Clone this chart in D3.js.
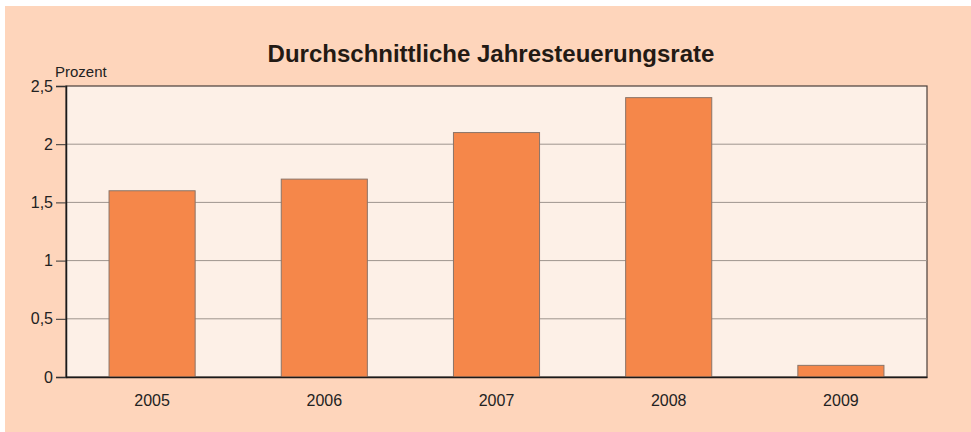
<!doctype html>
<html lang="de">
  <head>
    <meta charset="utf-8">
    <title>Jahresteuerungsrate</title>
    <style>
      body { margin: 0; background: #fff; }
      svg { display: block; font-family: "Liberation Sans", Arial, sans-serif; }
    </style>
  </head>
  <body>
    <div id="chart"></div>
    <script src="https://d3js.org/d3.v7.min.js"></script>
    <script>
    // data
    var years = ["2005", "2006", "2007", "2008", "2009"];
    var rates = [1.6, 1.7, 2.1, 2.4, 0.1];
    var yTicks = [0, 0.5, 1, 1.5, 2, 2.5];

    var width = 971, height = 432;
    var margin = {top: 86, right: 44, bottom: 55, left: 66};

    var svg = d3.select("#chart")
        .append("svg")
        .attr("width", width)
        .attr("height", height);

    // peach background
    svg.append("rect")
        .attr("x", 5).attr("y", 6)
        .attr("width", width - 5).attr("height", height - 6)
        .attr("fill", "#fed5bb");

    var x = d3.scaleBand()
        .domain(years)
        .range([margin.left, width - margin.right])
        .paddingInner(0.5)
        .paddingOuter(0.25);

    var y = d3.scaleLinear()
        .domain([0, 2.5])
        .range([height - margin.bottom, margin.top]);

    // plot area
    svg.append("rect")
        .attr("x", margin.left)
        .attr("y", margin.top)
        .attr("width", width - margin.left - margin.right)
        .attr("height", height - margin.top - margin.bottom)
        .attr("fill", "#fdf0e7")
        .attr("stroke", "#4a3f3a")
        .attr("stroke-width", 1.2);

    // gridlines
    svg.append("g")
        .selectAll("line")
        .data(yTicks.slice(1, -1))
        .join("line")
        .attr("x1", margin.left)
        .attr("x2", width - margin.right)
        .attr("y1", function(d){ return y(d); })
        .attr("y2", function(d){ return y(d); })
        .attr("stroke", "#9e948e")
        .attr("stroke-width", 1);

    // bars
    svg.append("g")
        .selectAll("rect")
        .data(rates)
        .join("rect")
        .attr("x", function(d, i){ return x(years[i]); })
        .attr("y", function(d){ return y(d); })
        .attr("width", x.bandwidth())
        .attr("height", function(d){ return y(0) - y(d); })
        .attr("fill", "#f5874a")
        .attr("stroke", "#8a7468")
        .attr("stroke-width", 1);

    // y axis
    var yAxis = svg.append("g")
        .attr("transform", "translate(" + margin.left + ",0)")
        .call(d3.axisLeft(y)
            .tickValues(yTicks)
            .tickSize(10)
            .tickPadding(3)
            .tickFormat(d3.formatLocale({decimal: ",", thousands: ".", grouping: [3], currency: ["", "€"]}).format("~g")));
    yAxis.select(".domain").attr("stroke", "#1a1a1a").attr("stroke-width", 1.5);
    yAxis.selectAll(".tick line").attr("stroke", "#333");
    yAxis.selectAll("text").attr("fill", "#222").style("font-size", "16px");

    // x axis
    var xAxis = svg.append("g")
        .attr("transform", "translate(0," + y(0) + ")")
        .call(d3.axisBottom(x).tickSize(0).tickPadding(18));
    xAxis.select(".domain").attr("stroke", "#1a1a1a").attr("stroke-width", 1.5);
    xAxis.selectAll("text").attr("fill", "#222").style("font-size", "16px");

    // unit label
    svg.append("text")
        .attr("x", 55).attr("y", 77)
        .attr("fill", "#222")
        .style("font-size", "15px")
        .text("Prozent");

    // title
    svg.append("text")
        .attr("x", 491).attr("y", 62)
        .attr("text-anchor", "middle")
        .attr("fill", "#231a14")
        .style("font-size", "24px")
        .style("font-weight", "bold")
        .text("Durchschnittliche Jahresteuerungsrate");
    </script>
  </body>
</html>
